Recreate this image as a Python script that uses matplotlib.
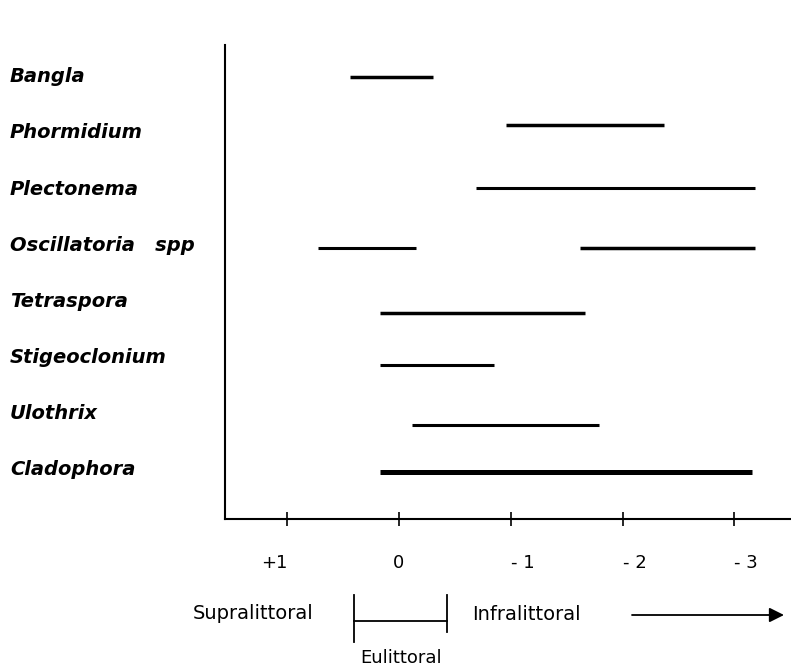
import matplotlib as mpl
mpl.use('Agg')
import matplotlib.pyplot as plt
from matplotlib.lines import Line2D

# species (top to bottom) and their vertical ranges on the shore level scale
species = ['Bangla', 'Phormidium', 'Plectonema', 'Oscillatoria   spp',
           'Tetraspora', 'Stigeoclonium', 'Ulothrix', 'Cladophora']

# one segment per bar (Oscillatoria has two)
seg_row = [0, 1, 2, 3, 3, 4, 5, 6, 7]
seg_upper = [0.44, -0.96, -0.69, 0.72, -1.62, 0.17, 0.17, -0.12, 0.17]
seg_lower = [-0.30, -2.37, -3.18, -0.15, -3.18, -1.66, -0.85, -1.79, -3.16]

level_ticks = [1, 0, -1, -2, -3]
level_labels = ['+1', '0', '- 1', '- 2', '- 3']

# layout tweaks (bar sits a bit off its label in the original)
bar_shift = [0.04, -0.10, 0.02, 0.09, 0.25, 0.16, 0.23, 0.07]
seg_lw = [2.5, 2.5, 2.2, 2.2, 2.5, 2.5, 2.2, 2.2, 3.6]

W, H = 791, 666
fig = plt.figure(figsize=(W / 100, H / 100), dpi=100)
ax = fig.add_axes([225 / W, 1 - 519 / H, 1 - 225 / W, (519 - 45) / H])


def fx(px):
    return px / W


def fy(py):
    return 1 - py / H


for r, a, b, lw in zip(seg_row, seg_upper, seg_lower, seg_lw):
    y = r + bar_shift[r]
    ax.hlines(y, a, b, color='black', lw=lw)

ax.set_xlim(1.556, -3.506)
ax.set_ylim(7.91, -0.53)

ax.spines['top'].set_visible(False)
ax.spines['right'].set_visible(False)
ax.spines['left'].set_linewidth(1.5)
ax.spines['bottom'].set_linewidth(1.5)

ax.set_xticks(level_ticks)
ax.set_xticklabels(level_labels, fontsize=13)
ax.tick_params(axis='x', direction='inout', length=10, width=1.2, pad=20)
for lab, ha in zip(ax.get_xticklabels(), ['right', 'center', 'left', 'left', 'left']):
    lab.set_ha(ha)

ax.set_yticks(range(len(species)))
ax.set_yticklabels(species, fontsize=14, fontweight='bold', fontstyle='italic')
ax.tick_params(axis='y', length=0, pad=215 * 0.72)
for lab in ax.get_yticklabels():
    lab.set_ha('left')

# zone annotation below the axis
fig.text(fx(193), fy(619), 'Supralittoral', fontsize=14, va='baseline')
fig.text(fx(472), fy(620), 'Infralittoral', fontsize=14, va='baseline')
fig.text(fx(360), fy(663), 'Eulittoral', fontsize=13, va='baseline')

fig.add_artist(Line2D([fx(354), fx(354)], [fy(595), fy(642)], color='black', lw=1.3))
fig.add_artist(Line2D([fx(447), fx(447)], [fy(595), fy(632)], color='black', lw=1.3))
fig.add_artist(Line2D([fx(354), fx(447)], [fy(621), fy(621)], color='black', lw=1.3))

ax.annotate('', xy=(784, H - 615), xytext=(632, H - 615),
            xycoords='figure pixels', textcoords='figure pixels',
            arrowprops=dict(arrowstyle='-|>', color='black', lw=1.3,
                            mutation_scale=22, shrinkA=0, shrinkB=0))

plt.savefig('out.png', dpi=100)
